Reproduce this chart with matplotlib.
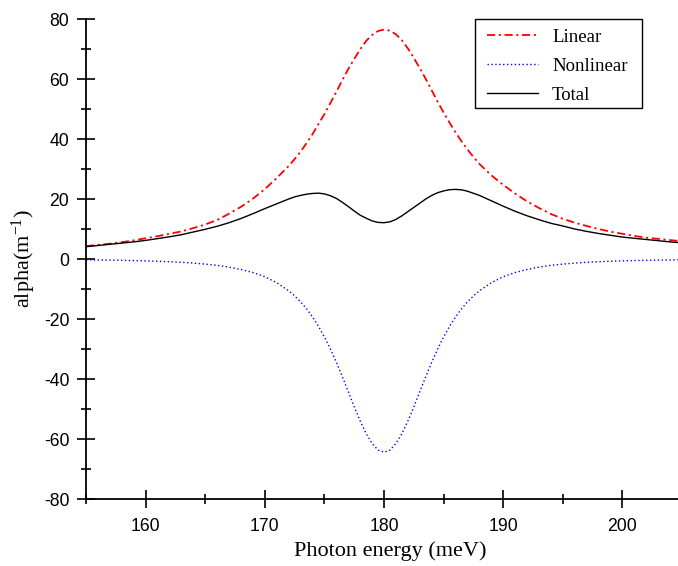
"""
Absorption coefficient vs photon energy: linear, nonlinear and total terms.
"""

import matplotlib
matplotlib.use('Agg')
import matplotlib.pyplot as plt
from matplotlib.patches import Rectangle
from matplotlib.ticker import MultipleLocator

# photon energy grid (meV)
energy = [155, 156, 157, 158, 159, 160, 161, 162, 163, 164, 165, 166, 167, 168, 169,
          170, 171, 172, 172.5, 173, 173.5, 174, 174.5, 175, 175.5, 176, 176.5, 177,
          177.5, 178, 178.5, 179, 179.5, 180, 180.5, 181, 181.5, 182, 182.5, 183,
          183.5, 184, 184.5, 185, 185.5, 186, 186.5, 187, 187.5, 188, 189, 190, 191,
          192, 193, 194, 195, 196, 197, 198, 199, 200, 201, 202, 203, 204, 205, 206]

alpha_linear = [4.3, 4.7, 5.1, 5.6, 6.2, 6.9, 7.6, 8.4, 9.2, 10.3, 11.5, 13.0, 15.1, 17.4, 20.1,
                23.3, 27.0, 31.0, 33.3, 35.8, 38.6, 41.6, 45.0, 48.3, 52.0, 55.7, 59.6, 63.3,
                66.7, 69.9, 72.7, 74.7, 76.0, 76.5, 76.1, 74.9, 72.9, 70.2, 67.0, 63.6,
                60.0, 56.2, 52.4, 48.8, 45.4, 42.2, 39.2, 36.5, 34.0, 31.7, 27.9, 24.7, 21.8,
                19.2, 17.0, 15.0, 13.4, 12.1, 11.0, 10.0, 9.1, 8.4, 7.7, 7.1, 6.7, 6.3, 5.9, 5.6]

alpha_nonlinear = [-0.27, -0.32, -0.37, -0.44, -0.52, -0.62, -0.75, -0.9, -1.1, -1.36, -1.7, -2.1, -2.7, -3.5, -4.5,
                   -5.9, -7.9, -10.6, -12.3, -14.3, -16.6, -19.3, -22.4, -26.0, -30.0, -34.4, -39.2, -44.2,
                   -49.3, -54.0, -58.2, -61.5, -63.7, -64.4, -63.7, -61.5, -58.2, -54.0, -49.3, -44.2,
                   -39.2, -34.4, -30.0, -26.0, -22.4, -19.3, -16.6, -14.3, -12.3, -10.6, -7.9, -5.9, -4.5,
                   -3.5, -2.7, -2.1, -1.7, -1.36, -1.1, -0.9, -0.75, -0.62, -0.52, -0.44, -0.37, -0.32, -0.27, -0.23]

alpha_total = [4.1, 4.5, 4.9, 5.3, 5.7, 6.2, 6.8, 7.4, 8.1, 9.0, 9.9, 10.9, 12.1, 13.5, 15.1,
               16.8, 18.4, 20.0, 20.7, 21.2, 21.6, 21.85, 21.95, 21.7, 21.1, 20.2, 18.9, 17.5,
               16.0, 14.6, 13.6, 12.7, 12.2, 12.1, 12.4, 13.2, 14.4, 15.8, 17.2, 18.6,
               20.0, 21.2, 22.1, 22.7, 23.1, 23.2, 23.05, 22.6, 21.9, 21.2, 19.4, 17.6, 15.9,
               14.4, 13.1, 11.9, 11.0, 10.0, 9.2, 8.5, 7.9, 7.3, 6.9, 6.5, 6.1, 5.7, 5.4, 5.1]

series_labels = ['Linear', 'Nonlinear', 'Total']

plt.rcParams['font.family'] = ['Liberation Sans', 'DejaVu Sans']
plt.rcParams['axes.unicode_minus'] = False
plt.rcParams['mathtext.fontset'] = 'custom'
plt.rcParams['mathtext.rm'] = 'Liberation Serif'
plt.rcParams['mathtext.it'] = 'Liberation Serif:italic'

fig = plt.figure(figsize=(6.78, 5.66), dpi=100)
# the axes runs a little past the right edge of the figure, as in the cropped original
ax = fig.add_axes([86 / 678, 67 / 566, 608 / 678, 480 / 566])

ax.plot(energy, alpha_linear, color='red', lw=1.3, dashes=(4.5, 2, 1.2, 2), label=series_labels[0])
ax.plot(energy, alpha_nonlinear, color='blue', lw=1.0, dashes=(1, 1.8), label=series_labels[1])
ax.plot(energy, alpha_total, color='black', lw=1.0, label=series_labels[2])

ax.set_xlim(155, 206)
ax.set_ylim(-80, 80)
ax.xaxis.set_major_locator(MultipleLocator(10))
ax.xaxis.set_minor_locator(MultipleLocator(5))
ax.yaxis.set_major_locator(MultipleLocator(20))
ax.yaxis.set_minor_locator(MultipleLocator(10))

for side in ['top', 'right']:
    ax.spines[side].set_visible(False)
for side in ['left', 'bottom']:
    ax.spines[side].set_linewidth(1.3)

ax.tick_params(which='major', direction='inout', length=13, width=1.2, labelsize=12.7)
ax.tick_params(which='minor', direction='inout', length=6.5, width=1.2)
ax.tick_params(axis='x', pad=7)
ax.tick_params(axis='y', pad=5.5)

ax.set_xlabel('Photon energy (meV)', family='Liberation Serif', fontsize=16, labelpad=5)
ax.set_ylabel('alpha(m$^{\\mathregular{-1}}$)', family='Liberation Serif', fontsize=16, labelpad=4)

# legend frame is drawn by hand: the original box has wider side margins than top/bottom
ax.add_artist(Rectangle((0.6398, 0.8146), 0.2747, 0.1854, transform=ax.transAxes,
                        facecolor='white', edgecolor='black', lw=1.0, zorder=4, clip_on=False))
leg = ax.legend(loc='upper left', bbox_to_anchor=(0.6595, 0.980), borderaxespad=0, borderpad=0,
                prop={'family': 'Liberation Serif', 'size': 13.5}, handlelength=2.72,
                frameon=False, labelspacing=0.64, handletextpad=0.75)
leg.set_zorder(5)

fig.savefig('out.png', dpi=100)
